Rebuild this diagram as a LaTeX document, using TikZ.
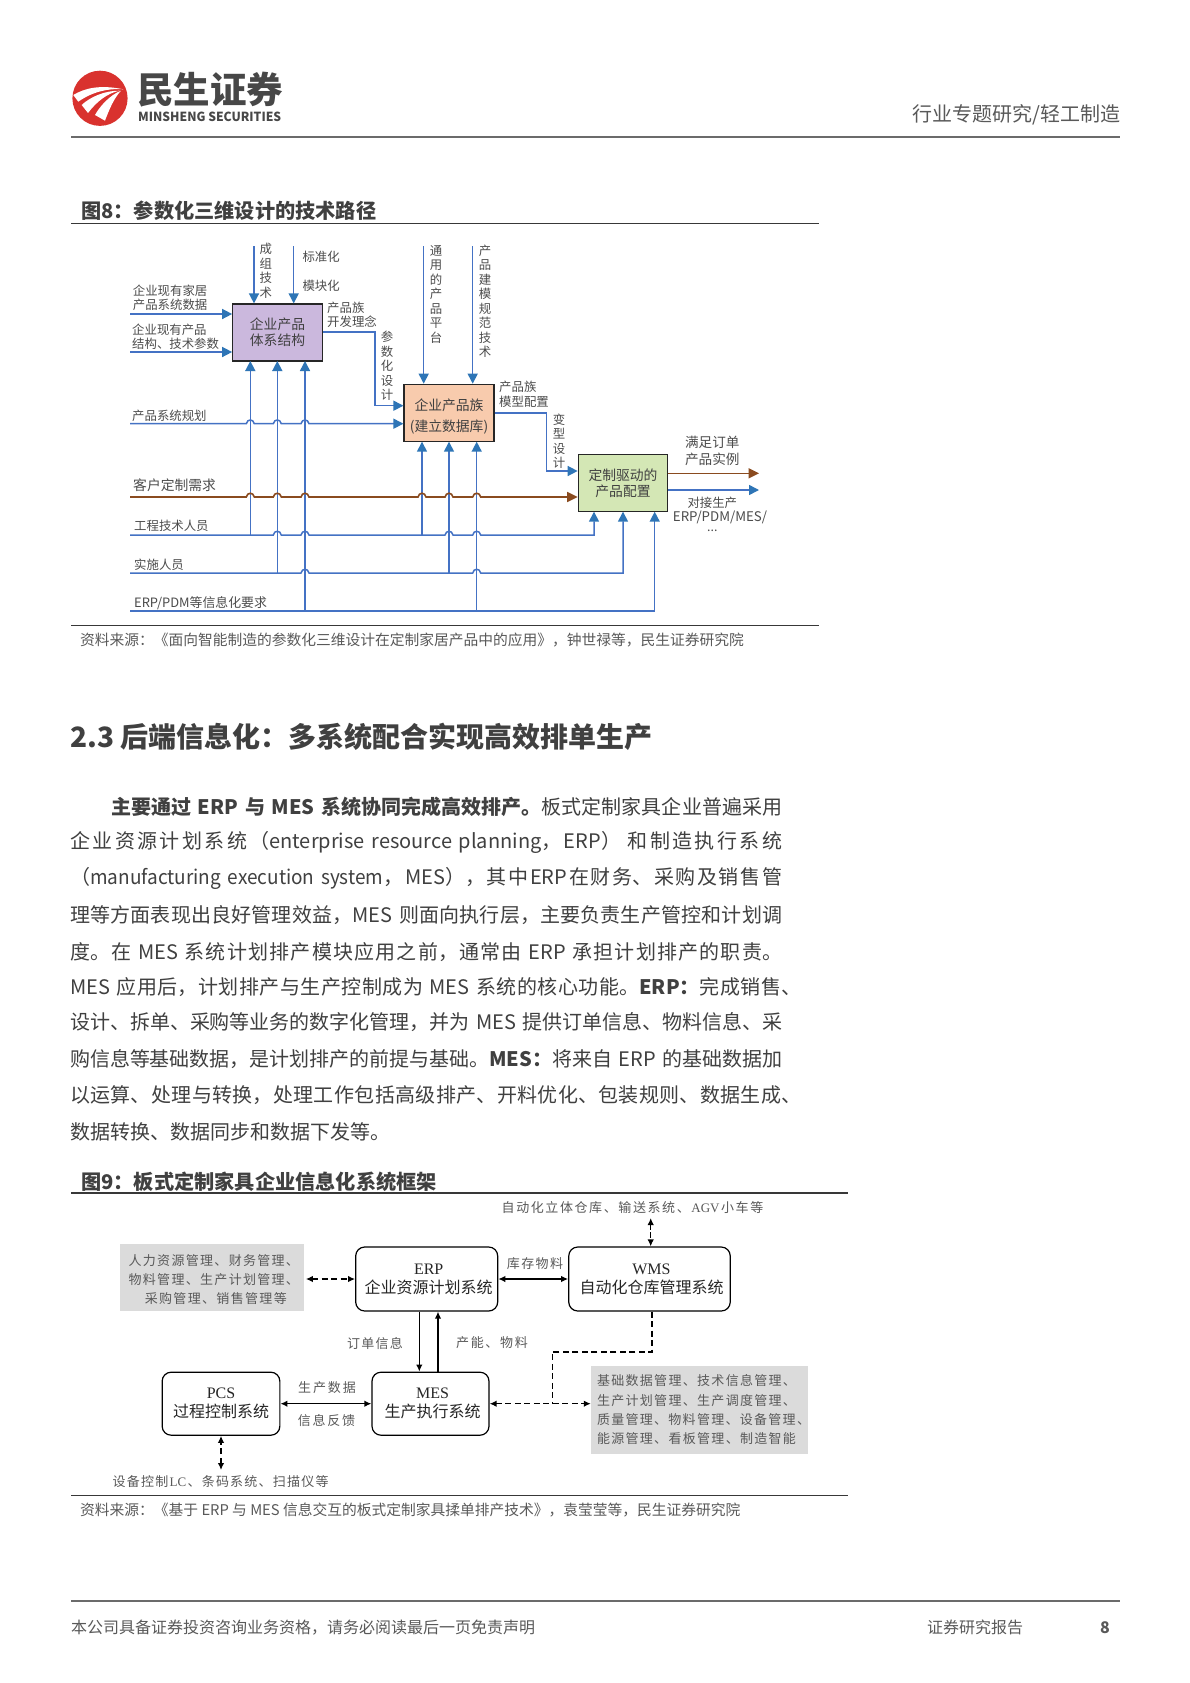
\documentclass[tikz,border=0pt]{standalone}
\usepackage{fontspec}
\setmainfont{Noto Sans CJK SC}
\newfontfamily\latser{Liberation Serif}
\usetikzlibrary{arrows.meta,calc}
\XeTeXlinebreaklocale "zh"
\XeTeXlinebreakskip=0pt plus 2pt minus 0.5pt
\newcommand\fz[2][]{\fontsize{#2pt}{\ifx&#1&#2\else#1\fi pt}\selectfont}
\def\spq{\relax}
\def\sploop#1{\def\sptmp{#1}\ifx\sptmp\spq\let\spnext\relax\else{#1}\hfil\let\spnext\sploop\fi\spnext}
\newcommand\spreadto[2]{\mbox{\hbox to #1pt{\sploop#2\relax\unskip}}}
\newcommand\jl[1]{\parindent=0pt\leftskip=0pt\rightskip=0pt\parfillskip=0pt\tolerance=10000\relax #1\par}
\newcommand\ksh{\hspace*{4pt}}
\def\hp#1#2{-- ({#1-4},#2) .. controls ({#1-3},{#2-5}) and ({#1+3},{#2-5}) .. ({#1+4},#2)}
\definecolor{lblue}{HTML}{4472C4}
\definecolor{hblue}{HTML}{2E75B6}
\definecolor{lbrown}{HTML}{8A4B1F}
\definecolor{txt}{HTML}{404040}
\definecolor{gtxt}{HTML}{595959}
\definecolor{logored}{HTML}{D9322E}
\tikzset{
 x=1pt,y=-1pt,
 every node/.style={inner sep=0pt,text=txt},
 bline/.style={draw=lblue,line width=1.5pt},
 barrow/.style={bline,-{Triangle[length=10pt,width=10pt,color=hblue]}},
 brline/.style={draw=lbrown,line width=1.6pt},
 brarrow/.style={brline,-{Triangle[length=10.5pt,width=10pt,color=lbrown]}},
 f8box/.style={draw=black!85,line width=1.2pt,font={\fz[16]{13.8}},align=center},
 f8lab/.style={anchor=west,align=left,font={\fz[14.4]{12.4}},text=gtxt!85!black},
 f8mid/.style={align=center,font={\fz[14.5]{12.4}},text=gtxt!85!black},
 f9box/.style={draw=black,line width=1.2pt,rounded corners=9pt,font={\fz[19]{16}},align=center,text=black!85},
 f9lab/.style={font=\fz{13},text=gtxt},
 f9grey/.style={fill=black!14,font={\fz[19.3]{13}},text=gtxt},
 karrow/.style={draw=black,line width=1.4pt,{Latex[length=7pt,width=6.5pt]}-{Latex[length=7pt,width=6.5pt]}},
 kdash/.style={karrow,dash pattern=on 6pt off 3.5pt},
 karrowone/.style={draw=black,line width=1.4pt,-{Latex[length=7pt,width=6.5pt]}},
 rulegrey/.style={draw=black!58,line width=2pt},
 ruledark/.style={draw=black!78,line width=1.6pt},
 ftitle/.style={anchor=west,font=\bfseries\fz{20.2},text=txt},
 fsource/.style={anchor=west,font=\fz{14.75},text=gtxt},
 bodyline/.style={anchor=west,text width=712pt,font={\fz[24]{20}},text=txt},
 foot/.style={anchor=west,font=\fz{16},text=gtxt},
}
\begin{document}
\begin{tikzpicture}
\useasboundingbox (0,0) rectangle (1190,1683);
\fill[white] (0,0) rectangle (1190,1683);
% ---------- header
\fill[logored] (100,98.3) circle (27.6);
\fill[white] (73.3,95) .. controls (85,88) and (100,84.5) .. (123.3,89.3) .. controls (108,88) and (92,92) .. (78.3,101.7) -- cycle;
\fill[white] (81.7,105) .. controls (90,97) and (105,90.5) .. (119.5,90.7) .. controls (108,93) and (97,101) .. (88,113) -- cycle;
\fill[white] (95,115) .. controls (100,106) and (110,95) .. (121,90.7) .. controls (114,98) and (109,110) .. (105,120.7) -- cycle;
\node[anchor=west,font=\bfseries\fz{36.5},text=black!72] (logocn) at (137,90) {民生证券};
\node[anchor=west,font=\bfseries,text=black!72] (logoen) at (138,116.7) {\resizebox{143pt}{9.5pt}{MINSHENG SECURITIES}};
\node[anchor=east,font=\fz{20},text=gtxt] (sect) at (1120.5,115) {行业专题研究/轻工制造};
\coordinate (hl) at (71,137); \coordinate (hr) at (1120,137);
\draw[rulegrey] (hl) -- (hr);
% ---------- figure 8 frame
\node[ftitle] (t8) at (81,211) {图8：参数化三维设计的技术路径};
\coordinate (r8a) at (71,223.5); \coordinate (r8b) at (819,223.5);
\draw[ruledark] (r8a) -- (r8b);
\coordinate (s8a) at (71,625.5); \coordinate (s8b) at (819,625.5);
\draw[ruledark] (s8a) -- (s8b);
\node[fsource] (src8) at (80,640) {资料来源：《面向智能制造的参数化三维设计在定制家居产品中的应用》，钟世禄等，民生证券研究院};
% boxes
\node[f8box,minimum width=89.5pt,minimum height=57pt,fill={rgb,255:red,203;green,184;blue,221}] (pb) at (277.5,332.5) {企业产品\\体系结构};
\node[f8box,minimum width=90pt,minimum height=57.5pt,fill={rgb,255:red,248;green,203;blue,173}] (ob) at (449,413) {\rule{0pt}{18pt}企业产品族\\[5pt](建立数据库)};
\node[f8box,minimum width=89.5pt,minimum height=57.5pt,fill={rgb,255:red,212;green,231;blue,181}] (gb) at (623,483) {定制驱动的\\产品配置};
% free ends
\coordinate (L1) at (130,314); \coordinate (L2) at (130,352);
\coordinate (T1) at (254,246); \coordinate (T2) at (293.7,246);
\coordinate (T3) at (423.7,246); \coordinate (T4) at (472.7,246);
\coordinate (Hp) at (130,423.7); \coordinate (Hb) at (130,497);
\coordinate (He) at (130,535); \coordinate (Hs) at (130,573); \coordinate (Hi) at (130,611);
\coordinate (Oa) at (759,473.3); \coordinate (Ob) at (759,490);
\coordinate (P1) at (375,332); \coordinate (P2) at (375,405.7);
\coordinate (Q1) at (546.7,413); \coordinate (Q2) at (546.7,471);
% top and left inputs
\draw[barrow] (L1) -- (L1 -| pb.west);
\draw[barrow] (L2) -- (L2 -| pb.west);
\draw[barrow] (T1) -- (T1 |- pb.north);
\draw[barrow] (T2) -- (T2 |- pb.north);
\draw[barrow] (T3) -- (T3 |- ob.north);
\draw[barrow] (T4) -- (T4 |- ob.north);
% verticals
\draw[barrow] (250.3,535) -- (250.3,361);
\draw[barrow] (277.3,573) -- (277.3,361);
\draw[barrow] (305,611) -- (305,361);
\draw[barrow] (422,535) -- (422,441.7);
\draw[barrow] (449,573) -- (449,441.7);
\draw[barrow] (476.7,611) -- (476.7,441.7);
% horizontals
\draw[barrow] (Hp) \hp{250.3}{423.7} \hp{277.3}{423.7} \hp{305}{423.7} -- (Hp -| ob.west);
\draw[brarrow] (Hb) \hp{250.3}{497} \hp{277.3}{497} \hp{305}{497} \hp{422}{497} \hp{449}{497} \hp{476.7}{497} -- (Hb -| gb.west);
\draw[barrow] (He) \hp{277.3}{535} \hp{305}{535} \hp{449}{535} \hp{476.7}{535} -- (594,535) -- (594,511.7);
\draw[barrow] (Hs) \hp{305}{573} \hp{476.7}{573} -- (623,573) -- (623,511.7);
\draw[barrow] (Hi) -- (654.7,611) -- (654.7,511.7);
% outputs
\draw[barrow] (pb.east |- P1) -- (P1) -- (P2) -- (P2 -| ob.west);
\draw[barrow] (ob.east |- Q1) -- (Q1) -- (Q2) -- (Q2 -| gb.west);
\draw[brarrow] (gb.east |- Oa) -- (Oa);
\draw[barrow] (gb.east |- Ob) -- (Ob);
% labels
\node[f8lab] (a1) at (132.7,298) {企业现有家居\\产品系统数据};
\node[f8lab] (a2) at (132,336.5) {企业现有产品\\结构、技术参数};
\node[f8mid] (a3) at (265.7,271) {成\\组\\技\\术};
\node[f8lab] (a4) at (302.3,256.7) {标准化};
\node[f8lab] (a5) at (302.3,285.7) {模块化};
\node[f8lab] (a6) at (327,314.5) {产品族\\开发理念};
\node[f8mid] (a7) at (387,366.2) {参\\数\\化\\设\\计};
\node[f8mid] (a8) at (436,294) {通\\用\\的\\产\\品\\平\\台};
\node[f8mid] (a9) at (485,301.5) {产\\品\\建\\模\\规\\范\\技\\术};
\node[f8lab] (a10) at (132,416) {产品系统规划};
\node[f8lab,font=\fz{13.8}] (a11) at (133,485) {客户定制需求};
\node[f8lab] (a12) at (134,526) {工程技术人员};
\node[f8lab] (a13) at (134,564.3) {实施人员};
\node[f8lab,font=\fz{12.9}] (a14) at (134,603) {ERP/PDM等信息化要求};
\node[f8lab] (a15) at (499,394.2) {产品族\\模型配置};
\node[f8mid] (a16) at (559,441.2) {变\\型\\设\\计};
\node[f8mid,font={\fz[17.6]{13.6}}] (a17) at (712.3,451) {满足订单\\产品实例};
\node[f8mid] (a18) at (712.3,503) {对接生产};
\node[f8mid,font=\fz{13.3}] (a19) at (720,517) {ERP/PDM/MES/};
\node[f8mid] (a20) at (712.3,531) {...};
% ---------- heading and body
\node[anchor=west,font=\bfseries\fz{28},text=txt] (h23) at (70,737) {2.3 后端信息化：多系统配合实现高效排单生产};
\node[bodyline,text width=671pt] (b1) at (111,806.7) {\jl{{\bfseries 主要通过 ERP 与 MES 系统协同完成高效排产。}板式定制家具企业普遍采用}};
\node[bodyline] (b2) at (70,842.7) {\jl{企业资源计划系统（enterprise resource planning，ERP） 和制造执行系统}};
\node[bodyline] (b3) at (70,878.7) {\jl{（{\addfontfeatures{FakeStretch=0.95}manufacturing execution system}，MES），其中\hspace{2pt}ERP\hspace{2pt}在财务、采购及销售管}};
\node[bodyline] (b4) at (70,915) {\jl{理等方面表现出良好管理效益，MES 则面向执行层，主要负责生产管控和计划调}};
\node[bodyline,text width=712pt] (b5) at (70,951.7) {\jl{度。在 MES 系统计划排产模块应用之前，通常由 ERP 承担计划排产的职责。}};
\node[bodyline,text width=731pt] (b6) at (70,986.7) {\jl{MES 应用后，计划排产与生产控制成为 MES 系统的核心功能。{\bfseries ERP：}完成销售、}};
\node[bodyline] (b7) at (70,1022) {\jl{设计、拆单、采购等业务的数字化管理，并为 MES 提供订单信息、物料信息、采}};
\node[bodyline] (b8) at (70,1059) {\jl{购信息等基础数据，是计划排产的前提与基础。{\bfseries MES：}将来自 ERP 的基础数据加}};
\node[bodyline,text width=731pt] (b9) at (70,1095) {\jl{以运算、处理与转换，处理工作包括高级排产、开料优化、包装规则、数据生成、}};
\node[anchor=west,font=\fz{20},text=txt] (b10) at (70,1131.7) {数据转换、数据同步和数据下发等。};
% ---------- figure 9
\node[ftitle] (t9) at (81,1182) {图9：板式定制家具企业信息化系统框架};
\coordinate (r9a) at (71,1193); \coordinate (r9b) at (848,1193);
\draw[ruledark] (r9a) -- (r9b);
\coordinate (s9a) at (71,1495.3); \coordinate (s9b) at (848,1495.3);
\draw[ruledark] (s9a) -- (s9b);
\node[fsource] (src9) at (80,1510) {资料来源：《基于 ERP 与 MES 信息交互的板式定制家具揉单排产技术》，袁莹莹等，民生证券研究院};
\node[f9box,minimum width=142pt,minimum height=64pt] (erp) at (426.7,1279) {\ksh{\latser ERP}\\\ksh 企业资源计划系统};
\node[f9box,minimum width=161.5pt,minimum height=64pt] (wms) at (649.5,1279) {\ksh{\latser WMS}\\\ksh 自动化仓库管理系统};
\node[f9box,minimum width=117pt,minimum height=63pt] (mes) at (430.5,1403.7) {\ksh{\latser MES}\\\ksh 生产执行系统};
\node[f9box,minimum width=117.7pt,minimum height=63pt] (pcs) at (221,1403.7) {{\latser PCS}\\过程控制系统};
\node[f9grey,minimum width=183.7pt,minimum height=66.7pt,align=center] (g1) at (211.8,1277.4) {\rule{0pt}{15.5pt}\ksh\spreadto{170.4}{人力资源管理、财务管理、}\\\ksh\spreadto{170.4}{物料管理、生产计划管理、}\\\ksh\ksh\spreadto{142}{采购管理、销售管理等}};
\node[f9grey,minimum width=217pt,minimum height=88.3pt,text width=205pt,align=left] (g2) at (699.5,1409.8) {\spreadto{199}{基础数据管理、技术信息管理、}\\\spreadto{199}{生产计划管理、生产调度管理、}\\\spreadto{213}{质量管理、物料管理、设备管理、}\\\spreadto{199}{能源管理、看板管理、制造智能}};
\node[f9lab] (n1) at (375,1343) {\spreadto{56}{订单信息}};
\node[f9lab] (n2) at (492,1343) {\spreadto{71.7}{产能、物料}};
\node[f9lab] (n3) at (535,1264) {\spreadto{56.3}{库存物料}};
\node[f9lab] (n4) at (327,1387.7) {\spreadto{57.7}{生产数据}};
\node[f9lab] (n5) at (326.5,1420) {\spreadto{57.3}{信息反馈}};
\node[f9lab] (n6) at (220.7,1481.7) {\spreadto{216}{设备控制{\latser LC}、条码系统、扫描仪等}};
\node[f9lab] (n7) at (632.5,1207.7) {\spreadto{261.6}{自动化立体仓库、输送系统、{\latser AGV}小车等}};
\coordinate (d1) at (419.3,1300); \coordinate (d2) at (438,1300);
\coordinate (pt1) at (650.7,1218); \coordinate (pt2) at (221,1470);
\coordinate (bend) at (652,1352); \coordinate (jct) at (552.3,1403.7);
\draw[kdash] (g1.east |- erp.west) ++(2,0) coordinate (g1e) -- (erp.west);
\draw[karrow] (erp.east) -- (wms.west);
\draw[karrowone] (d1 |- erp.south) -- (d1 |- mes.north);
\draw[karrowone] (d2 |- mes.north) -- (d2 |- erp.south);
\draw[karrow] (pcs.east) -- (mes.west);
\draw[kdash] (mes.east) -- (mes.east -| g2.west);
\draw[karrow,dash pattern=on 6pt off 2pt] (pt1) -- (pt1 |- wms.north);
\draw[kdash] (pt2) -- (pcs.south -| pt2);
\draw[draw=black,line width=1.4pt,dash pattern=on 6pt off 3.5pt] (bend |- wms.south) -- (bend) -- (bend -| jct) -- (jct);
% ---------- footer
\coordinate (fl) at (71,1601); \coordinate (fr) at (1120,1601);
\draw[rulegrey] (fl) -- (fr);
\node[foot] (f1) at (71,1627.5) {本公司具备证券投资咨询业务资格，请务必阅读最后一页免责声明};
\node[foot] (f2) at (927,1627.5) {证券研究报告};
\node[foot,font=\bfseries\fz{16}] (f3) at (1100,1627.5) {8};
\end{tikzpicture}
\end{document}
